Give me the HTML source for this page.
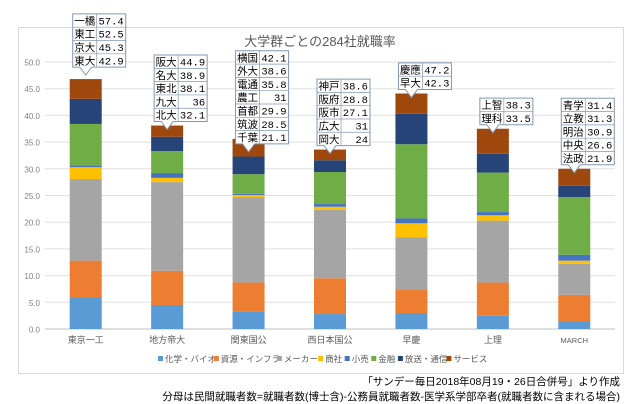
<!DOCTYPE html>
<html><head><meta charset="utf-8">
<style>
html,body{margin:0;padding:0;background:#fff;}
svg{display:block;font-family:"Liberation Sans","Noto Sans CJK JP",sans-serif;}
</style></head>
<body>
<svg id="chart" width="640" height="404" viewBox="0 0 640 404" xmlns="http://www.w3.org/2000/svg">
<rect x="18.5" y="27.5" width="605" height="346" fill="#fff" stroke="#d9d9d9"/>
<text x="320" y="46" text-anchor="middle" font-size="13" fill="#595959">大学群ごとの284社就職率</text>
<g id="grid"></g><g id="bars"></g><g id="callouts"></g><g id="legend"></g>
<text x="620" y="385" text-anchor="end" font-size="10.5" fill="#000">「サンデー毎日2018年08月19・26日合併号」より作成</text>
<text x="620" y="400" text-anchor="end" font-size="10.5" fill="#000">分母は民間就職者数=就職者数(博士含)-公務員就職者数-医学系学部卒者(就職者数に含まれる場合)</text>
</svg>
<script>
const categories=["東京一工","地方帝大","関東国公","西日本国公","早慶","上理","MARCH"];
const seriesNames=["化学・バイオ","資源・インフラ","メーカー","商社","小売","金融","放送・通信","サービス"];
const chem=[5.9,4.5,3.2,2.8,3.0,2.5,1.4];
const infra=[6.9,6.4,5.5,6.7,4.3,6.2,5.0];
const maker=[15.3,16.6,16.0,12.8,9.9,11.6,5.8];
const trading=[2.2,0.8,0.4,0.6,2.6,1.0,0.6];
const retail=[0.3,0.9,0.2,0.5,0.9,0.6,1.1];
const finance=[7.8,4.1,3.7,6.0,13.9,7.4,10.8];
const media=[4.7,2.7,3.3,2.2,5.7,3.5,2.1];
const service=[3.7,2.1,3.3,2.0,3.8,4.7,3.2];
const yTicks=[0,5,10,15,20,25,30,35,40,45,50];
const calloutNames=[["一橋","東工","京大","東大"],["阪大","名大","東北","九大","北大"],["横国","外大","電通","農工","首都","筑波","千葉"],["神戸","阪府","阪市","広大","岡大"],["慶應","早大"],["上智","理科"],["青学","立教","明治","中央","法政"]];
const calloutValues=[["57.4","52.5","45.3","42.9"],["44.9","38.9","38.1","36","32.1"],["42.1","38.6","35.8","31","29.9","28.5","21.1"],["38.6","28.8","27.1","31","24"],["47.2","42.3"],["38.3","33.5"],["31.4","31.3","30.9","26.6","21.9"]];
const series=[chem,infra,maker,trading,retail,finance,media,service];
const colors=["#5B9BD5","#ED7D31","#A5A5A5","#FFC000","#4472C4","#70AD47","#264478","#9E480E"];
const NS="http://www.w3.org/2000/svg";
const x0=45,x1=615,y0=329,pxPer=(329-62)/50;
const y=v=>y0-v*pxPer;
const step=(x1-x0)/categories.length;
const xc=i=>x0+step*(i+0.5);
const bw=32;
function mk(t,a,p){const e=document.createElementNS(NS,t);for(const k in a)e.setAttribute(k,a[k]);p.appendChild(e);return e;}
const grid=document.getElementById('grid');
yTicks.forEach(t=>{
 const l=mk('line',{x1:x0,x2:x1,y1:y(t),y2:y(t),stroke:t===0?'#bfbfbf':'#e0e0e0'},grid);
 
 
 const tx=mk('text',{x:40,y:y(t)+3.5,'text-anchor':'end','font-size':8,fill:'#7f7f7f'},grid);
 tx.textContent=t.toFixed(1);
 
 
});
const bars=document.getElementById('bars');
const tops=[];
categories.forEach((c,i)=>{
 let acc=0;
 series.forEach((s,k)=>{
  const r=mk('rect',{x:xc(i)-bw/2,y:y(acc+s[i]),width:bw,height:s[i]*pxPer,fill:colors[k]},bars);
  
  
  acc+=s[i];
 });
 tops.push(acc);
 const lb=mk('text',{x:xc(i),y:343,'text-anchor':'middle','font-size':c==='MARCH'?7.5:9,fill:'#595959'},bars);
 lb.textContent=c;
 
 
});
const co=document.getElementById('callouts');
const rh=13.3;
calloutNames.forEach((names,i)=>{
 const h=names.length*rh, w=53, bx=xc(i)-13, tip=y(tops[i])+(i===2?13:(i===0?-4:4));
 const by=tip-8-h;
 const g=mk('g',{},co);
 
 
 mk('path',{d:`M${bx} ${by}H${bx+w}V${by+h}H${xc(i)+6}L${xc(i)} ${tip}L${xc(i)-6} ${by+h}H${bx}Z`,fill:'#fff',stroke:'#8497b0'},g);
 mk('line',{x1:bx+24,x2:bx+24,y1:by,y2:by+h,stroke:'#8497b0','stroke-width':0.7},g);
 names.forEach((n,r)=>{
  if(r>0) mk('line',{x1:bx,x2:bx+w,y1:by+r*rh,y2:by+r*rh,stroke:'#8497b0','stroke-width':0.7},g);
  const t1=mk('text',{x:bx+12,y:by+r*rh+10.5,'text-anchor':'middle','font-size':10.5,fill:'#000'},g);
  t1.textContent=n;
  
  
  const t2=mk('text',{x:bx+w-2,y:by+r*rh+10.5,'text-anchor':'end','font-size':10.5,fill:'#000','font-family':'Liberation Mono, monospace'},g);
  t2.textContent=calloutValues[i][r];
  
  
 });
});
const lg=document.getElementById('legend');
let lx=158;
seriesNames.forEach((n,k)=>{
 const g=mk('g',{},lg);
 
 
 mk('rect',{x:lx,y:356,width:5,height:5,fill:colors[k]},g);
 const t=mk('text',{x:lx+7,y:362,'font-size':8.5,fill:'#595959'},g);
 t.textContent=n;
 lx+=7+n.length*7.3+5;
});
</script>
</body></html>
